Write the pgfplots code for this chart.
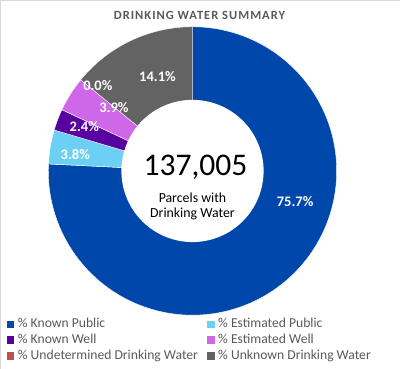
\documentclass[border=0pt]{standalone}
\usepackage{pgfplots}
\pgfplotsset{compat=1.18}
\usepackage{fontspec}
\setmainfont{Carlito}
\definecolor{kpub}{RGB}{0,71,171}
\definecolor{epub}{RGB}{108,208,245}
\definecolor{kwell}{RGB}{88,0,160}
\definecolor{ewell}{RGB}{206,104,232}
\definecolor{undet}{RGB}{192,80,77}
\definecolor{unkn}{RGB}{99,99,99}
\definecolor{tgray}{RGB}{89,89,89}
% slice: start angle, end angle (degrees, clockwise from top), colour
\newcommand{\slice}[3]{%
  \addplot[fill=#3, draw=white, line width=0.4pt, domain=#1:#2, samples=120]
    ({192.5+144*sin(x)}, {198+144*cos(x)}) -- (axis cs:192.5,198) -- cycle;}
\newcommand{\colA}[1]{\makebox[189bp][l]{#1}}
\begin{document}
\begin{tikzpicture}
\begin{axis}[
  width=400bp, height=369bp, scale only axis,
  xmin=0, xmax=400, ymin=0, ymax=369,
  axis lines=none, clip=false,
  legend image code/.code={\fill[#1, draw=none] (0bp,-3.5bp) rectangle (7.5bp,4bp);},
  legend style={at={(axis cs:7,51)}, anchor=north west, draw=none, fill=none,
    inner sep=0pt, legend columns=2,
    font=\fontsize{13.6bp}{15bp}\selectfont, text=tgray,
    cells={anchor=west},
    nodes={inner sep=0pt, text height=9.5bp, text depth=3bp},
    /tikz/every odd column/.append style={column sep=3.5bp},
    row sep=3.2bp},
]
\draw[color=black!15] (axis cs:0.5,0.5) rectangle (axis cs:399.5,368.5);
% values (%): 75.7, 3.8, 2.4, 3.9, 0.0, 14.1 ; angle = cumulative % * 360/99.9
\slice{0}{272.79}{kpub}
\addlegendentry{\colA{\% Known Public}}
\slice{272.79}{286.49}{epub}
\addlegendentry{\% Estimated Public}
\slice{286.49}{295.14}{kwell}
\addlegendentry{\colA{\% Known Well}}
\slice{295.14}{309.19}{ewell}
\addlegendentry{\% Estimated Well}
\addlegendimage{fill=undet}
\addlegendentry{\colA{\% Undetermined Drinking Water}}
\slice{309.19}{360}{unkn}
\addlegendentry{\% Unknown Drinking Water}
\addplot[fill=white, draw=none, domain=0:360, samples=150, forget plot]
  ({192.5+71*sin(x)}, {198+71*cos(x)}) -- cycle;
% labels
\begin{scope}[every node/.style={font=\bfseries\fontsize{14.5bp}{16bp}\selectfont, text=white}]
\node at (axis cs:295,167) {75.7\%};
\node at (axis cs:75.5,214) {3.8\%};
\node at (axis cs:84.5,242.5) {2.4\%};
\node at (axis cs:114,261) {3.9\%};
\node at (axis cs:98,283) {0.0\%};
\node at (axis cs:157.5,292.5) {14.1\%};
\end{scope}
\node[anchor=base, font=\fontsize{31.5bp}{33bp}\selectfont] at (axis cs:195.5,193.3) {137,005};
\node[anchor=base, font=\fontsize{13.8bp}{15bp}\selectfont] at (axis cs:192.5,167) {Parcels with};
\node[anchor=base, font=\fontsize{13.8bp}{15bp}\selectfont] at (axis cs:192.5,151.7) {Drinking Water};
\node[anchor=base, font=\bfseries\fontsize{12.5bp}{14bp}\selectfont\addfontfeatures{LetterSpace=8}, text=tgray] at (axis cs:199.5,349.7) {DRINKING WATER SUMMARY};
\end{axis}
\end{tikzpicture}
\end{document}
